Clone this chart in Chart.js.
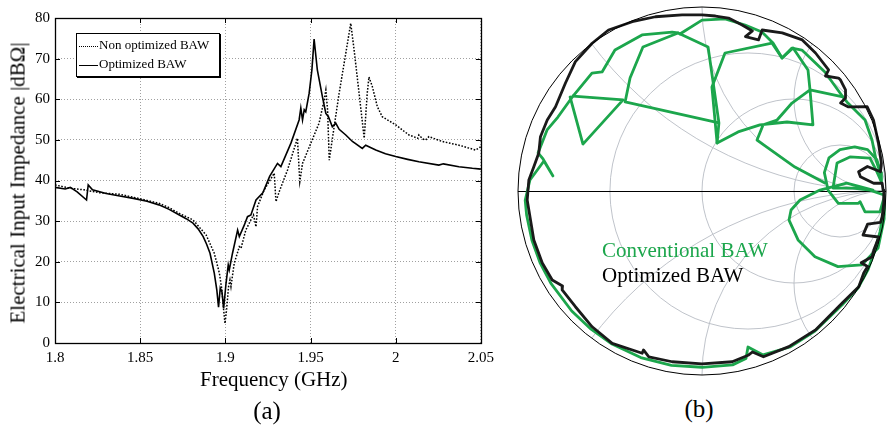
<!DOCTYPE html>
<html>
<head>
<meta charset="utf-8">
<script src="https://cdn.jsdelivr.net/npm/chart.js@4.4.1/dist/chart.umd.min.js"></script>
<style>
  body { margin: 0; background: #fff; width: 889px; height: 429px; overflow: hidden; position: relative;
         font-family: "Liberation Serif", "Times New Roman", serif; }
  canvas { position: absolute; }
  .lbl { position: absolute; line-height: 1; white-space: nowrap; color: #000; }
  #legA { position: absolute; left: 76px; top: 33px; width: 142px; height: 42px; border: 1px solid #000;
          box-shadow: 1px 1px 0 #000; background: #fff; font-size: 13px; }
  #legA .row { position: absolute; left: 2px; height: 14px; line-height: 14px; }
  #legA .smp { display: inline-block; width: 19px; vertical-align: middle; margin-right: 1px; }
</style>
</head>
<body>
<canvas id="impChart" width="500" height="429" style="left:0;top:0"></canvas>
<canvas id="smithChart" width="377" height="385" style="left:512px;top:0"></canvas>

<div class="lbl" style="font-size:21px;left:18px;top:183px;transform:translate(-50%,-50%) rotate(-90deg)">Electrical Input Impedance |dBΩ|</div>
<div class="lbl" style="font-size:21px;left:200px;top:369px">Frequency (GHz)</div>
<div class="lbl" style="font-size:25px;left:267px;top:410px;transform:translate(-50%,-50%)">(a)</div>
<div class="lbl" style="font-size:25px;left:699px;top:408px;transform:translate(-50%,-50%)">(b)</div>
<div class="lbl" style="font-size:21px;left:602px;top:240px;color:#1ca64c">Conventional BAW</div>
<div class="lbl" style="font-size:21px;left:602px;top:265px">Optimized BAW</div>

<div id="legA">
  <div class="row" style="top:4px"><span class="smp" style="border-top:1.5px dotted #000"></span>Non optimized BAW</div>
  <div class="row" style="top:23px"><span class="smp" style="border-top:1.5px solid #000"></span>Optimized BAW</div>
</div>

<script>
// (a) input impedance vs frequency
const xTicks = [1.8, 1.85, 1.9, 1.95, 2, 2.05];

const freqOptimized = [1.800, 1.806, 1.809, 1.813, 1.8185, 1.8195, 1.822, 1.830, 1.838, 1.846, 1.854, 1.861,
  1.867, 1.873, 1.877, 1.881, 1.884, 1.887, 1.889, 1.891, 1.8935, 1.895, 1.896, 1.897, 1.898, 1.899,
  1.9004, 1.9017, 1.9023, 1.9042, 1.9072, 1.9082, 1.9111, 1.913, 1.915, 1.918, 1.922, 1.926, 1.9306,
  1.9326, 1.9385, 1.9433, 1.9443, 1.9453, 1.9463, 1.9472, 1.9492, 1.9508, 1.9521, 1.954, 1.957, 1.959,
  1.9605, 1.9628, 1.9648, 1.9668, 1.9707, 1.9746, 1.9804, 1.9824, 1.9883, 1.994, 2.000, 2.007, 2.0136,
  2.0253, 2.028, 2.0371, 2.045, 2.05];
const impOptimized = [38.3, 37.9, 38.3, 37.2, 35.2, 38.9, 37.7, 36.8, 36.2, 35.6, 34.9, 34.0,
  32.9, 31.5, 30.6, 29.5, 28.1, 26.2, 24.3, 22.1, 17.2, 13.0, 8.8, 13.5, 12.6, 8.5,
  14.7, 19.2, 18.0, 22.1, 27.8, 26.2, 29.0, 31.1, 31.5, 35.2, 37.0, 41.0, 44.2,
  43.4, 49.2, 54.9, 57.8, 54.9, 57.4, 56.9, 61.5, 67.2, 74.8, 67.2, 60.6, 56.5,
  55.7, 53.2, 54.1, 52.6, 51.2, 49.6, 47.9, 48.7, 47.5, 46.6, 45.9, 45.2, 44.6,
  43.8, 44.1, 43.4, 43.0, 42.8];

const freqNonOptimized = [1.800, 1.809, 1.817, 1.826, 1.838, 1.849, 1.861, 1.867, 1.873, 1.881, 1.8887,
  1.8935, 1.8965, 1.898, 1.899, 1.8998, 1.9007, 1.9019, 1.9027, 1.9033, 1.9052, 1.9082, 1.9092, 1.912,
  1.915, 1.9165, 1.918, 1.9189, 1.9228, 1.9287, 1.9297, 1.9316, 1.9365, 1.9423, 1.9437, 1.9453, 1.9502,
  1.955, 1.958, 1.959, 1.960, 1.961, 1.963, 1.9668, 1.9707, 1.9736, 1.9756, 1.9785, 1.9815, 1.9833,
  1.9843, 1.9863, 1.9892, 1.9921, 2.000, 2.0078, 2.0130, 2.0136, 2.0160, 2.0176, 2.0195, 2.0273,
  2.0371, 2.0469, 2.05];
const impNonOptimized = [38.9, 38.1, 37.7, 37.0, 36.6, 35.6, 34.4, 33.3, 31.9, 30.3, 26.6,
  22.1, 17.2, 13.0, 8.1, 4.8, 8.1, 13.9, 15.5, 13.9, 19.6, 23.7, 23.3, 27.8,
  30.3, 31.5, 28.6, 33.6, 37.7, 41.8, 34.8, 37.2, 42.6, 50.4, 39.7, 44.2, 49.2,
  54.1, 59.8, 62.3, 57.4, 45.0, 50.8, 61.5, 71.3, 78.7, 72.1, 61.5, 50.4, 61.5,
  65.5, 63.1, 58.2, 55.7, 53.7, 51.2, 50.4, 51.2, 50.2, 50.0, 50.8, 49.6,
  48.7, 47.5, 48.3];

// (b) Smith chart, reflection coefficient [re, im]
const resistanceCircles = [0.333, 1, 3];
const reactanceArcs = [0.5, 1, 2];

const optimizedTrace = [[0.985, 0.0], [0.979, 0.042], [0.933, 0.042], [0.861, 0.078], [0.851, 0.105],
  [0.899, 0.133], [0.970, 0.105], [0.975, 0.15], [0.959, 0.261], [0.932, 0.386], [0.898, 0.458],
  [0.796, 0.457], [0.753, 0.478], [0.780, 0.505], [0.780, 0.549], [0.753, 0.603], [0.742, 0.614],
  [0.671, 0.625], [0.688, 0.658], [0.617, 0.750], [0.545, 0.821], [0.436, 0.859], [0.327, 0.875],
  [0.307, 0.821], [0.236, 0.839], [0.274, 0.870], [0.218, 0.902], [0.144, 0.940], [0.073, 0.951],
  [0.0, 0.957], [-0.108, 0.957], [-0.253, 0.947], [-0.379, 0.920], [-0.508, 0.875], [-0.597, 0.803],
  [-0.688, 0.703], [-0.742, 0.587], [-0.796, 0.458], [-0.841, 0.386], [-0.878, 0.295], [-0.887, 0.207],
  [-0.914, 0.132], [-0.941, 0.060], [-0.950, -0.049], [-0.941, -0.103], [-0.914, -0.266],
  [-0.868, -0.391], [-0.814, -0.484], [-0.758, -0.516], [-0.760, -0.538], [-0.688, -0.629],
  [-0.597, -0.738], [-0.488, -0.828], [-0.325, -0.882], [-0.318, -0.864], [-0.289, -0.901],
  [-0.162, -0.928], [0.0, -0.940], [0.164, -0.928], [0.254, -0.891], [0.274, -0.875], [0.334, -0.901],
  [0.472, -0.846], [0.617, -0.755], [0.762, -0.609], [0.852, -0.520], [0.879, -0.446], [0.900, -0.410],
  [0.865, -0.390], [0.925, -0.357], [0.934, -0.321], [0.961, -0.250], [0.875, -0.240], [0.900, -0.180],
  [0.970, -0.170], [0.979, -0.140], [0.988, -0.065], [0.988, 0.005]];

const conventionalEdge = [[-0.701, 0.516], [-0.783, 0.402], [-0.842, 0.332], [-0.891, 0.207],
  [-0.864, 0.174], [-0.810, 0.082], [-0.859, 0.163], [-0.935, 0.060], [-0.961, -0.050], [-0.953, -0.132],
  [-0.924, -0.269], [-0.880, -0.390], [-0.821, -0.502], [-0.708, -0.652], [-0.603, -0.751],
  [-0.489, -0.832], [-0.333, -0.905], [-0.166, -0.948], [0.0, -0.958], [0.166, -0.945], [0.239, -0.910],
  [0.250, -0.848], [0.332, -0.891], [0.478, -0.848], [0.614, -0.761], [0.761, -0.620], [0.848, -0.527],
  [0.902, -0.429], [0.940, -0.321], [0.967, -0.223], [0.984, -0.130], [0.989, -0.049]];
const conventionalLoops = [[0.989, -0.038], [0.967, -0.113], [0.886, -0.113], [0.859, -0.058],
  [0.850, -0.067], [0.741, -0.067], [0.685, 0.005], [0.665, 0.10], [0.69, 0.18], [0.75, 0.225],
  [0.83, 0.24], [0.90, 0.225], [0.95, 0.17], [0.973, 0.10], [0.975, 0.05], [0.946, 0.114], [0.913, 0.179],
  [0.804, 0.185], [0.734, 0.152], [0.712, 0.016], [0.821, 0.016], [0.913, 0.005], [0.989, -0.022],
  [0.99, -0.15], [0.957, -0.310], [0.867, -0.402], [0.739, -0.411], [0.614, -0.357], [0.522, -0.266],
  [0.473, -0.158], [0.484, -0.103], [0.533, -0.049], [0.641, 0.005], [0.786, 0.043], [0.929, 0.005]];
const conventionalRight = [[0.668, 0.043], [0.505, 0.130], [0.299, 0.277], [0.332, 0.359], [0.408, 0.386],
  [0.489, 0.478], [0.587, 0.549], [0.603, 0.359], [0.462, 0.375], [0.315, 0.359], [0.196, 0.321],
  [0.082, 0.261], [0.054, 0.565], [0.125, 0.750], [0.380, 0.804], [0.435, 0.723], [0.495, 0.777],
  [0.576, 0.658], [0.587, 0.549], [0.766, 0.511], [0.793, 0.478], [0.886, 0.386], [0.924, 0.277],
  [0.946, 0.168], [0.967, 0.103], [0.973, 0.06]];
const conventionalTop = [[-0.120, 0.853], [0.0, 0.929], [0.125, 0.935], [0.234, 0.902], [0.326, 0.864],
  [0.386, 0.804], [0.435, 0.723], [0.489, 0.777], [0.543, 0.766], [0.668, 0.647], [0.766, 0.511]];
const conventionalKite = [[0.082, 0.261], [0.092, 0.370], [-0.418, 0.484], [-0.391, 0.614], [-0.321, 0.783],
  [-0.130, 0.859], [0.033, 0.783], [0.092, 0.370]];
const conventionalLeft = [[-0.130, 0.859], [-0.163, 0.864], [-0.326, 0.848], [-0.473, 0.766],
  [-0.543, 0.647], [-0.598, 0.641], [-0.701, 0.516], [-0.429, 0.495], [-0.647, 0.255], [-0.717, 0.511]];

const greenColor = "#1ca64c";
const serif = '"Liberation Serif", "Times New Roman", serif';

Chart.defaults.font.family = serif;
Chart.defaults.color = "#000";

function pairs(xs, ys) {
  return xs.map((v, i) => ({ x: v, y: ys[i] }));
}
function gamma(list) {
  return list.map(([re, im]) => ({ x: re, y: im }));
}

// box + inward ticks, like the original plot
const axesBox = {
  id: "axesBox",
  afterDatasetsDraw(chart) {
    const { ctx, chartArea: a, scales: { x, y } } = chart;
    ctx.save();
    ctx.strokeStyle = "#000";
    ctx.lineWidth = 1;
    ctx.beginPath();
    x.ticks.forEach((t) => {
      const px = Math.round(x.getPixelForValue(t.value)) + 0.5;
      ctx.moveTo(px, a.bottom); ctx.lineTo(px, a.bottom - 5);
      ctx.moveTo(px, a.top); ctx.lineTo(px, a.top + 5);
    });
    y.ticks.forEach((t) => {
      const py = Math.round(y.getPixelForValue(t.value)) + 0.5;
      ctx.moveTo(a.left, py); ctx.lineTo(a.left + 5, py);
      ctx.moveTo(a.right, py); ctx.lineTo(a.right - 5, py);
    });
    ctx.stroke();
    ctx.lineWidth = 1.3;
    ctx.strokeRect(Math.round(a.left) + 0.5, Math.round(a.top) + 0.5,
      Math.round(a.right - a.left), Math.round(a.bottom - a.top));
    ctx.restore();
  }
};

new Chart(document.getElementById("impChart"), {
  type: "line",
  data: {
    datasets: [
      {
        label: "Non optimized BAW",
        data: pairs(freqNonOptimized, impNonOptimized),
        borderColor: "#000",
        borderWidth: 1.5,
        borderDash: [1.6, 1.6],
        pointRadius: 0,
        tension: 0
      },
      {
        label: "Optimized BAW",
        data: pairs(freqOptimized, impOptimized),
        borderColor: "#000",
        borderWidth: 1.6,
        pointRadius: 0,
        tension: 0
      }
    ]
  },
  options: {
    responsive: false,
    animation: false,
    devicePixelRatio: 1,
    layout: { padding: { top: 18, right: 18, left: 0, bottom: 0 } },
    plugins: { legend: { display: false }, tooltip: { enabled: false } },
    scales: {
      x: {
        type: "linear",
        min: 1.8,
        max: 2.05,
        afterBuildTicks: (s) => { s.ticks = xTicks.map((v) => ({ value: v })); },
        afterFit: (s) => { s.height = 86; },
        ticks: {
          padding: 6,
          font: { family: serif, size: 15 },
          callback: (v) => String(Number(v.toFixed(2)))
        },
        grid: { color: "#a0a0a0", lineWidth: 1, drawTicks: false },
        border: { display: false, dash: [1, 2] }
      },
      y: {
        min: 0,
        max: 80,
        afterFit: (s) => { s.width = 55; },
        ticks: { stepSize: 10, padding: 5, font: { family: serif, size: 15 } },
        grid: { color: "#a0a0a0", lineWidth: 1, drawTicks: false },
        border: { display: false, dash: [1, 2] }
      }
    }
  },
  plugins: [axesBox]
});

// Smith chart grid drawn in reflection-coefficient coordinates
const smithGrid = {
  id: "smithGrid",
  beforeDatasetsDraw(chart) {
    const { ctx, scales: { x, y } } = chart;
    const cx = x.getPixelForValue(0), cy = y.getPixelForValue(0);
    const R = x.getPixelForValue(1) - cx;
    ctx.save();
    ctx.beginPath();
    ctx.arc(cx, cy, R, 0, 2 * Math.PI);
    ctx.clip();
    ctx.strokeStyle = "#b8bcc4";
    ctx.lineWidth = 0.9;
    resistanceCircles.forEach((r) => {
      ctx.beginPath();
      ctx.arc(x.getPixelForValue(r / (1 + r)), cy, R / (1 + r), 0, 2 * Math.PI);
      ctx.stroke();
    });
    reactanceArcs.forEach((v) => {
      [v, -v].forEach((s) => {
        ctx.beginPath();
        ctx.arc(x.getPixelForValue(1), y.getPixelForValue(1 / s), R / v, 0, 2 * Math.PI);
        ctx.stroke();
      });
    });
    ctx.restore();
    ctx.save();
    ctx.strokeStyle = "#000";
    ctx.lineWidth = 1;
    ctx.beginPath();
    ctx.moveTo(cx - R, Math.round(cy) + 0.5);
    ctx.lineTo(cx + R, Math.round(cy) + 0.5);
    ctx.stroke();
    ctx.restore();
  },
  afterDatasetsDraw(chart) {
    const { ctx, scales: { x, y } } = chart;
    const cx = x.getPixelForValue(0), cy = y.getPixelForValue(0);
    const R = x.getPixelForValue(1) - cx;
    ctx.save();
    ctx.strokeStyle = "#000";
    ctx.lineWidth = 1;
    ctx.beginPath();
    ctx.arc(cx, cy, R, 0, 2 * Math.PI);
    ctx.stroke();
    ctx.restore();
  }
};

function trace(label, list, color) {
  return {
    label: label,
    data: gamma(list),
    showLine: true,
    borderColor: color,
    borderWidth: 2.8,
    borderJoinStyle: "round",
    borderCapStyle: "round",
    pointRadius: 0,
    tension: 0
  };
}

new Chart(document.getElementById("smithChart"), {
  type: "scatter",
  data: {
    datasets: [
      trace("Optimized BAW", optimizedTrace, "#1a1a1a"),
      trace("Conventional BAW", conventionalEdge, greenColor),
      trace("Conventional BAW", conventionalLoops, greenColor),
      trace("Conventional BAW", conventionalRight, greenColor),
      trace("Conventional BAW", conventionalTop, greenColor),
      trace("Conventional BAW", conventionalKite, greenColor),
      trace("Conventional BAW", conventionalLeft, greenColor)
    ]
  },
  options: {
    responsive: false,
    animation: false,
    devicePixelRatio: 1,
    layout: { padding: { left: 6, top: 7, right: 3, bottom: 10 } },
    plugins: { legend: { display: false }, tooltip: { enabled: false } },
    scales: {
      x: { type: "linear", min: -1, max: 1, display: false },
      y: { type: "linear", min: -1, max: 1, display: false }
    }
  },
  plugins: [smithGrid]
});
</script>
</body>
</html>
